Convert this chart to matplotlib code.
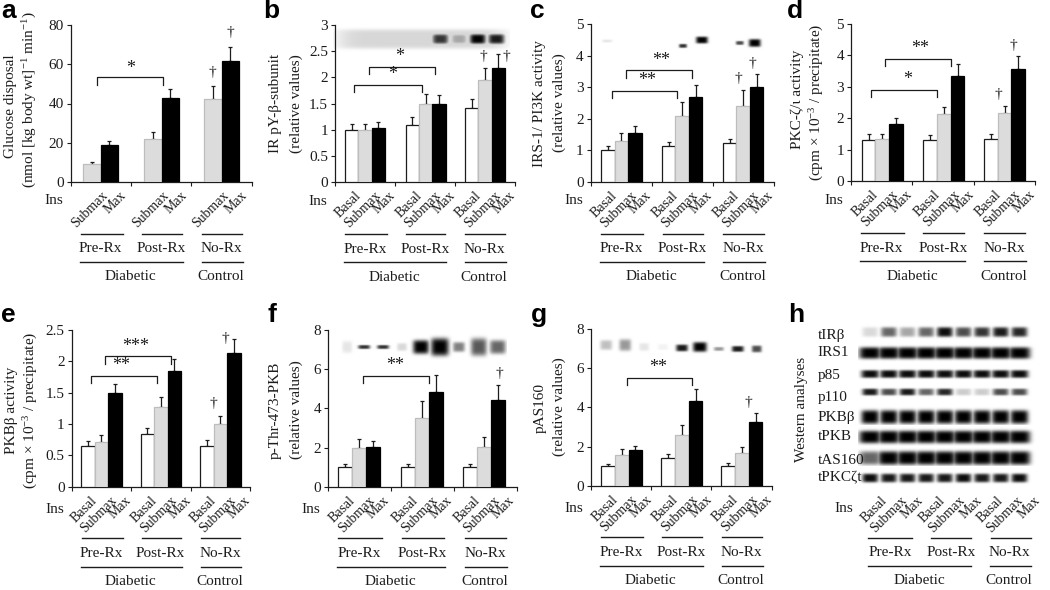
import numpy as np
import matplotlib
matplotlib.use('Agg')
import matplotlib.pyplot as plt
from matplotlib.lines import Line2D
from matplotlib.transforms import Affine2D

plt.rcParams['font.family'] = ['Liberation Serif', 'DejaVu Serif']
plt.rcParams['mathtext.fontset'] = 'custom'
plt.rcParams['mathtext.rm'] = 'Liberation Serif'
plt.rcParams['mathtext.default'] = 'regular'

INK = '#1c1c1c'
GRAY = '#dcdcdc'
W_PX, H_PX = 1050, 590

# ---- data ----
cond3 = ['Basal', 'Submax', 'Max']
cond2 = ['Submax', 'Max']
groups = ['Pre-Rx', 'Post-Rx', 'No-Rx']
outer = ['Diabetic', 'Control']

a_val = [[9, 19], [22, 43], [42.5, 61.5]]
a_top = [[10, 21], [25.5, 47.5], [49, 69]]
b_val = [[1, 1, 1.03], [1.1, 1.49, 1.5], [1.42, 1.96, 2.18]]
b_top = [[1.12, 1.12, 1.15], [1.25, 1.69, 1.67], [1.58, 2.18, 2.45]]
c_val = [[1, 1.3, 1.55], [1.15, 2.1, 2.7], [1.22, 2.42, 3.0]]
c_top = [[1.13, 1.55, 1.78], [1.27, 2.52, 3.07], [1.37, 2.9, 3.42]]
d_val = [[1.32, 1.35, 1.8], [1.3, 2.12, 3.33], [1.35, 2.15, 3.57]]
d_top = [[1.5, 1.5, 2.0], [1.45, 2.37, 3.72], [1.5, 2.4, 3.98]]
e_val = [[.65, .72, 1.5], [.84, 1.27, 1.84], [.65, 1.0, 2.13]]
e_top = [[.73, .82, 1.64], [.93, 1.43, 2.03], [.74, 1.12, 2.36]]
f_val = [[1.0, 1.97, 2.02], [1.03, 3.5, 4.85], [1.02, 2.05, 4.43]]
f_top = [[1.15, 2.45, 2.35], [1.18, 4.35, 5.7], [1.18, 2.52, 5.2]]
g_val = [[1, 1.57, 1.8], [1.42, 2.6, 4.33], [1.02, 1.67, 3.23]]
g_top = [[1.13, 1.87, 2.05], [1.62, 3.12, 4.95], [1.15, 2.0, 3.73]]

yt_a = [0, 20, 40, 60, 80]
yt_b = [0, .5, 1, 1.5, 2, 2.5, 3]
yt_c = [0, 1, 2, 3, 4, 5]
yt_e = [0, .5, 1, 1.5, 2, 2.5]
yt_f = [0, 2, 4, 6, 8]
ytl_b = ['0', '0.5', '1', '1.5', '2', '2.5', '3']
ytl_e = ['0', '0.5', '1', '1.5', '2', '2.5']

ylab_cpm = '(cpm × 10$^{-3}$ / precipitate)'
ylab_rel = '(relative values)'

# blot band intensities (lanes 1-9)
blot_b = [.05, .03, .03, .03, .15, .8, .35, 1, .9]
blot_c = [.1, 0, 0, 0, .8, 1, 0, .7, 1]
blot_f = [.1, .8, .8, .15, 1, 1, .5, .65, .6]
blot_g = [.25, .4, .1, .05, .9, 1, .4, .9, .7]
h_rows = ['tIRβ', 'IRS1', 'p85', 'p110', 'PKBβ', 'tPKB', 'tAS160', 'tPKCζt']
h_bands = [
    [.15, .6, .35, .6, .95, .7, .8, .9, .85],
    [1, 1, 1, 1, 1, 1, 1, 1, 1],
    [.95, .95, .95, .95, .95, .95, .95, .95, .95],
    [.9, .7, .9, .6, .85, .2, .2, .7, .7],
    [1, 1, 1, 1, 1, 1, 1, 1, 1],
    [1, 1, 1, 1, 1, 1, 1, 1, 1],
    [.6, 1, 1, 1, 1, 1, 1, 1, 1],
    [.95, .9, .9, .9, .9, .95, .9, .9, .95],
]

fig = plt.figure(figsize=(10.5, 5.9), dpi=100, facecolor='white')
P = Affine2D().scale(1 / W_PX, -1 / H_PX).translate(0, 1) + fig.transFigure


def t(x, y, s, size=11, ha='center', va='center', rot=0, **kw):
    kw.setdefault('color', INK)
    fig.text(x, y, s, transform=P, fontsize=size, ha=ha, va=va, rotation=rot,
             rotation_mode='anchor' if rot and rot != 90 else None, **kw)


def hline(x1, x2, y, lw=1.0):
    fig.add_artist(Line2D([x1, x2], [y, y], transform=P, color=INK, lw=lw))


def letter(x, y, s):
    t(x, y, s, size=19, ha='left', va='baseline', family='Liberation Sans',
      fontweight='bold', color='black')


def blot(x1, x2, y1, y2, centers, ycs, amps, hw, hh, bg=0.0, power=2.0):
    ax = fig.add_axes([x1 / W_PX, 1 - y2 / H_PX, (x2 - x1) / W_PX, (y2 - y1) / H_PX],
                      zorder=0)
    xs = np.linspace(x1, x2, int((x2 - x1) * 2))
    ys = np.linspace(y1, y2, int((y2 - y1) * 2))
    X, Y = np.meshgrid(xs, ys)
    xm, ym = (x1 + x2) / 2, (y1 + y2) / 2
    # soft-edged background strip
    im = bg * np.exp(-((X - xm) / ((x2 - x1) / 2 - 4)) ** 10 - ((Y - ym) / ((y2 - y1) / 2 - 5)) ** 6)
    for c, yc, amp, w, h in zip(centers, ycs, amps, hw, hh):
        d = amp * np.exp(-((X - c) / w) ** (2 * power) - ((Y - yc) / h) ** (2 * power))
        im = np.maximum(im, d)
    ax.imshow(1 - im, cmap='gray', vmin=0, vmax=1, aspect='auto', origin='upper',
              extent=(x1, x2, y2, y1), interpolation='bilinear')
    ax.axis('off')


def panel(x0, x1, top, bot, ymax, yt, ytl, vals, tops, starts, width, conds,
          brackets, daggers, ins_dy=19):
    ax = fig.add_axes([x0 / W_PX, 1 - bot / H_PX, (x1 - x0) / W_PX, (bot - top) / H_PX], zorder=2)
    ax.patch.set_alpha(0)
    ax.set_xlim(0, 3)
    ax.set_ylim(0, ymax)
    for s in ('top', 'right'):
        ax.spines[s].set_visible(False)
    for s in ('left', 'bottom'):
        ax.spines[s].set_linewidth(0.9)
        ax.spines[s].set_color(INK)
    ax.set_xticks([0, 1, 2, 3])
    ax.set_xticklabels([])
    ax.set_yticks(yt)
    ax.set_yticklabels(ytl if ytl else [str(v) for v in yt], fontsize=11, color=INK)
    ax.tick_params(axis='both', length=3, width=0.8, pad=2, color=INK)
    styles = {'Basal': ('white', INK), 'Submax': (GRAY, '#bdbdbd'), 'Max': ('black', 'black')}
    for g in range(3):
        for j, cond in enumerate(conds):
            xc = g + starts[g] + (j + .5) * width
            fc, ec = styles[cond]
            ax.bar(xc, vals[g][j], width=width, color=fc, edgecolor=ec, lw=0.9, zorder=3)
            ax.errorbar(xc, vals[g][j], yerr=[[0], [tops[g][j] - vals[g][j]]], color=INK,
                        lw=0.9, capsize=1.3, capthick=0.9, zorder=2)
            dx = {'Basal': 3, 'Submax': 9, 'Max': 10}[cond] * .72
            ax.annotate(cond, xy=(xc, 0), xytext=(dx, -5), textcoords='offset points',
                        fontsize=10, rotation=45, rotation_mode='anchor', ha='right',
                        va='top', color=INK, annotation_clip=False)
    drop = (ymax / (bot - top)) * 7.5
    for b in brackets:
        xa, xb, y, sx, sy, label = b
        ax.plot([xa, xa, xb, xb], [y - drop, y, y, y - drop], color=INK, lw=0.9, zorder=4)
        ax.text(sx, sy, label, fontsize=13, ha='center', va='center', color=INK)
    for dx_, dy_ in daggers:
        ax.text(dx_, dy_, '†', fontsize=11, ha='center', va='center', color=INK)
    t(x0 - 17, bot + ins_dy, 'Ins', size=11)
    spans = [(10, 52), (71, 111), (131, 171)]
    unit = (x1 - x0) / 181.0
    for i, (a_, b_) in enumerate(spans):
        hline(x0 + a_ * unit, x0 + b_ * unit, bot + 51.5)
        t(x0 + (30 + 60.3 * i) * unit, bot + 67, groups[i])
    hline(x0 + 9 * unit, x0 + 112 * unit, bot + 80)
    hline(x0 + 131 * unit, x0 + 172 * unit, bot + 80)
    t(x0 + 60 * unit, bot + 95, outer[0])
    t(x0 + 150 * unit, bot + 95, outer[1])
    return ax


# ---- panel a ----
panel(70.7, 251.7, 25, 182, 80, yt_a, None, a_val, a_top, [.204, .215, .21], .292, cond2,
      [(.43, 1.53, 53.3, .998, 58, '*')], [(2.355, 56), (2.64, 76)])
t(11, 106, 'Glucose disposal', rot=90)
t(30, 100, '(nmol [kg body wt]$^{-1}$ min$^{-1}$)', rot=90)
letter(1, 18, 'a')

# ---- panel b ----
blot(333, 510, 24, 54, [347 + 18.7 * i for i in range(9)], [39] * 9, blot_b,
     [8] * 9, [5] * 9, bg=.16)
panel(335, 515, 25, 182.3, 3, yt_b, ytl_b, b_val, b_top, [.167, .178, .167], .222, cond3,
      [(.32, 1.445, 1.857, .96, 2.05, '*'), (.57, 1.67, 2.206, 1.07, 2.40, '*')],
      [(2.47, 2.40), (2.86, 2.40)])
t(275, 103, 'IR pY-β-subunit', rot=90)
t(296, 104, ylab_rel, rot=90)
letter(263, 18, 'b')

# ---- panel c ----
blot(600, 770, 30, 52, [607 + 19 * i for i in range(8)] + [755], [41, 41, 41, 41, 46, 40, 41, 43, 43],
     blot_c, [5, 1, 1, 1, 4, 6, 1, 4, 6], [1.5, 1, 1, 1, 2, 3.5, 1, 2, 4])
panel(590.7, 774, 24, 182, 5, yt_c, None, c_val, c_top, [.169, .164, .164], .221, cond3,
      [(.35, 1.415, 2.89, .93, 3.2, '**'), (.58, 1.655, 3.54, 1.15, 3.85, '**')],
      [(2.42, 3.26), (2.65, 3.76)])
t(539, 104, 'IRS-1/ PI3K activity', rot=90)
t(559, 103, ylab_rel, rot=90)
letter(530, 18, 'c')

# ---- panel d ----
panel(851, 1035, 24, 181, 5, yt_c, None, d_val, d_top, [.175, .18, .17], .223, cond3,
      [(.32, 1.40, 2.9, .93, 3.22, '*'), (.555, 1.63, 3.895, 1.13, 4.23, '**')],
      [(2.41, 2.76), (2.64, 4.31)])
t(797, 99, 'PKC-ζ/ι activity', rot=90)
t(817, 102, ylab_cpm, rot=90)
letter(787, 18, 'd')

# ---- panel e ----
panel(71.7, 250, 330, 486.7, 2.5, yt_e, ytl_e, e_val, e_top, [.157, .16, .16], .227, cond3,
      [(.32, 1.44, 1.77, .84, 1.94, '**'), (.56, 1.67, 2.08, 1.07, 2.24, '***')],
      [(2.38, 1.33), (2.59, 2.36)], ins_dy=23)
t(12, 410, 'PKBβ activity', rot=90)
t(31, 410, ylab_cpm, rot=90)
letter(1, 322, 'e')

# ---- panel f ----
blot(335, 507, 333, 360, [347, 364, 383, 402, 421, 440, 459, 479, 498], [347] * 9, blot_f,
     [5, 6, 6, 5, 8, 9, 6, 8, 8], [6, 2, 2, 4, 7, 9, 5, 9, 7])
panel(328, 516.7, 330, 486.7, 8, yt_f, None, f_val, f_top, [.164, .16, .15], .221, cond3,
      [(.56, 1.6, 5.66, 1.06, 6.2, '**')], [(2.72, 5.79)], ins_dy=23)
t(275, 410, 'p-Thr-473-PKB', rot=90)
t(296, 410, ylab_rel, rot=90)
letter(267, 322, 'f')

# ---- panel g ----
blot(595, 766, 333, 358, [606, 625, 644, 663, 682, 700, 719, 738, 757], [345, 345, 347, 347, 348, 347, 349, 349, 349],
     blot_g, [6, 6, 5, 5, 6, 7, 5, 6, 5], [5, 6, 4, 3, 3.5, 5, 2, 3, 3.5])
panel(591, 771.7, 329, 485.7, 8, yt_f, None, g_val, g_top, [.166, .163, .16], .229, cond3,
      [(.59, 1.68, 5.51, 1.11, 6.04, '**')], [(2.62, 4.25)], ins_dy=23)
t(540, 408, 'pAS160', rot=90)
t(559, 407, ylab_rel, rot=90)
letter(531, 322, 'g')

# ---- panel h (western analyses) ----
row_y = [331.7, 352.7, 374, 392, 416.7, 436.7, 458.3, 477.7]
row_lab_y = [335, 353, 375, 397, 418, 436, 460, 478]
row_hh = [5, 6, 4, 3.5, 7, 6.5, 7, 4.5]
row_hw = [8, 11, 9, 8, 9, 11, 11, 8]
lanes = [870 + 18.7 * i for i in range(9)]
for name, yc, ly, amps, hh, hw in zip(h_rows, row_y, row_lab_y, h_bands, row_hh, row_hw):
    blot(858, 1036, yc - 12, yc + 12, lanes, [yc] * 9, amps, [hw] * 9, [hh] * 9)
    t(817.7, ly, name, ha='left', size=11)
t(801, 409, 'Western analyses', rot=90)
t(844, 508, 'Ins')
for g in range(3):
    for j, (cond, xe) in enumerate(zip(cond3, (880, 900, 917))):
        t(xe + g * 58.3, 494, cond, size=10, rot=45, ha='right', va='top')
for xa, xb, xc, lab in [(868, 912, 890, 'Pre-Rx'), (931, 971, 951, 'Post-Rx'), (991, 1031, 1009, 'No-Rx')]:
    hline(xa, xb, 538.3)
    t(xc, 553, lab)
hline(868, 971, 566)
hline(990, 1031, 566)
t(919, 581, outer[0])
t(1009, 581, outer[1])
letter(788, 322, 'h')

fig.savefig('out.png', dpi=100, facecolor='white')
